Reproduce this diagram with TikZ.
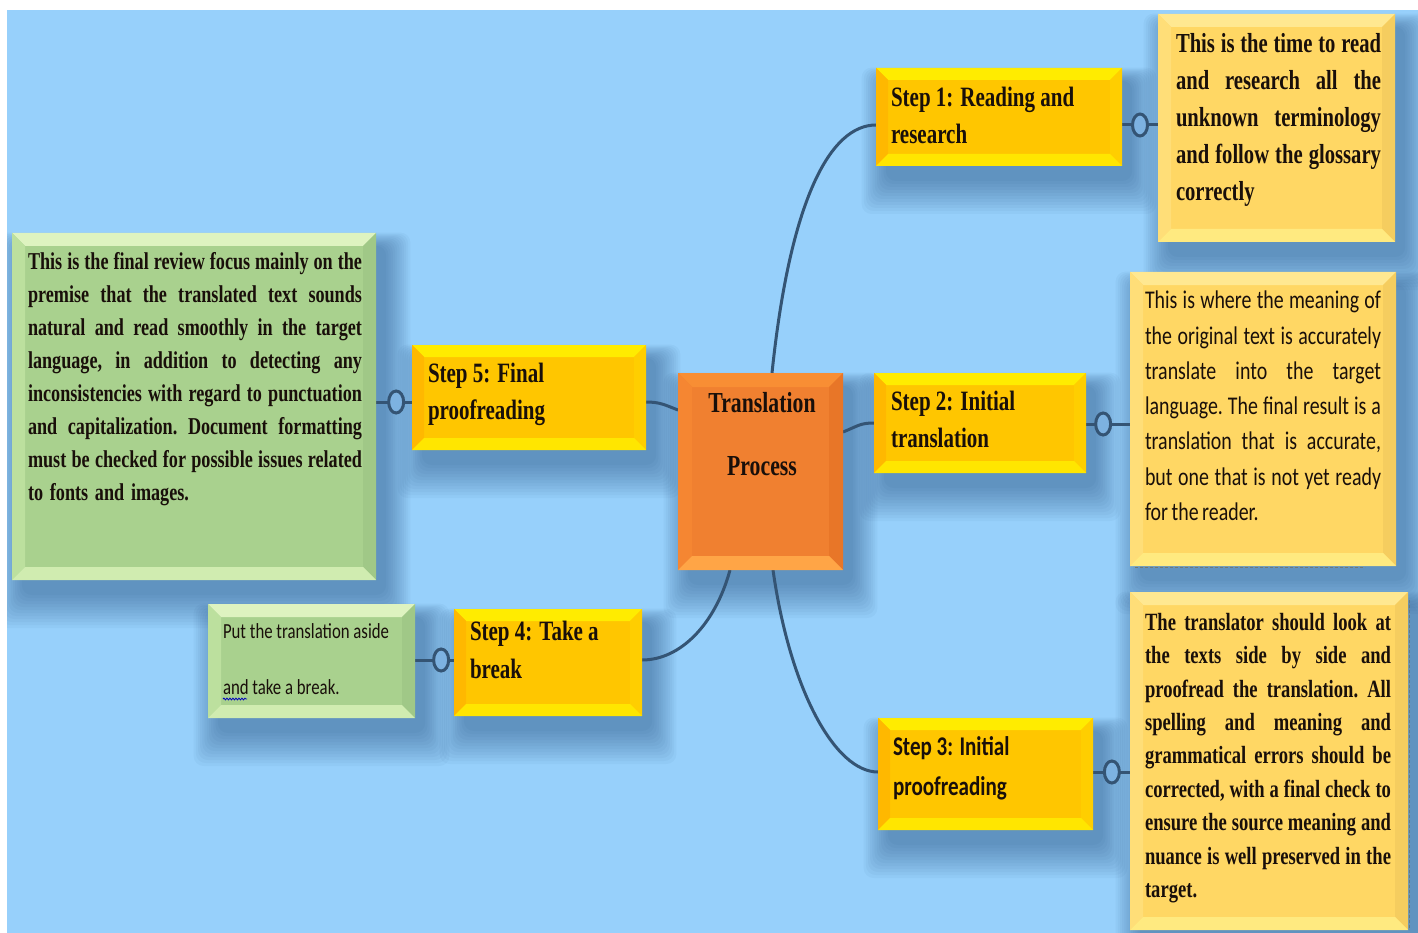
\documentclass[tikz,border=0pt]{standalone}
\usepackage{fontspec}
\newfontfamily\serifb[FakeStretch=0.75]{Liberation Serif}
\newfontfamily\sansc[FakeStretch=0.78]{Carlito}
\usetikzlibrary{shapes.geometric,decorations.pathmorphing}
\pgfdeclarelayer{bglayer}
\pgfdeclarelayer{shadowlayer}
\pgfdeclarelayer{connlayer}
\pgfsetlayers{bglayer,shadowlayer,connlayer,main}

\definecolor{bgblue}{RGB}{151,208,251}
\definecolor{shadowcol}{RGB}{30,70,120}
\definecolor{conncol}{RGB}{52,84,116}
\definecolor{ringfill}{RGB}{125,178,225}
\definecolor{stepbody}{RGB}{255,198,0}
\definecolor{steptop}{RGB}{255,236,0}
\definecolor{stepleft}{RGB}{255,184,0}
\definecolor{stepright}{RGB}{255,206,0}
\definecolor{stepbot}{RGB}{255,230,0}
\definecolor{descbody}{RGB}{255,215,100}
\definecolor{desctop}{RGB}{255,232,145}
\definecolor{descleft}{RGB}{255,222,120}
\definecolor{descright}{RGB}{245,205,95}
\definecolor{descbot}{RGB}{255,234,128}
\definecolor{grnbody}{RGB}{169,209,142}
\definecolor{grntop}{RGB}{222,243,192}
\definecolor{grnleft}{RGB}{188,224,158}
\definecolor{grnright}{RGB}{160,200,135}
\definecolor{grnbot}{RGB}{208,236,176}
\definecolor{orgbody}{RGB}{240,128,48}
\definecolor{orgtop}{RGB}{248,142,52}
\definecolor{orgleft}{RGB}{245,134,50}
\definecolor{orgright}{RGB}{232,118,40}
\definecolor{orgbot}{RGB}{255,165,70}
\definecolor{txtcol}{RGB}{25,15,10}
\definecolor{dashcol}{RGB}{110,120,120}

\newcommand\jl[1]{\hbox to \linewidth{\frenchspacing\spaceskip=0.12em plus 1fil\relax #1}\break}
\newcommand\lastl[2]{\hbox{\frenchspacing\spaceskip=#1\relax #2}}

\tikzset{
  bevbox/.style n args={6}{draw=none, inner sep=0pt, outer sep=0pt, fill=#1,
    path picture={
      \fill[#2] (path picture bounding box.north west) -- (path picture bounding box.north east)
        -- ([shift={(-#6,-#6)}]path picture bounding box.north east)
        -- ([shift={(#6,-#6)}]path picture bounding box.north west) -- cycle;
      \fill[#3] (path picture bounding box.north west) -- ([shift={(#6,-#6)}]path picture bounding box.north west)
        -- ([shift={(#6,#6)}]path picture bounding box.south west) -- (path picture bounding box.south west) -- cycle;
      \fill[#4] (path picture bounding box.north east) -- ([shift={(-#6,-#6)}]path picture bounding box.north east)
        -- ([shift={(-#6,#6)}]path picture bounding box.south east) -- (path picture bounding box.south east) -- cycle;
      \fill[#5] (path picture bounding box.south west) -- (path picture bounding box.south east)
        -- ([shift={(-#6,#6)}]path picture bounding box.south east)
        -- ([shift={(#6,#6)}]path picture bounding box.south west) -- cycle;
    }},
  stepbox/.style={bevbox={stepbody}{steptop}{stepleft}{stepright}{stepbot}{12pt}},
  descbox/.style={bevbox={descbody}{desctop}{descleft}{descright}{descbot}{13pt}},
  grnbox/.style={bevbox={grnbody}{grntop}{grnleft}{grnright}{grnbot}{13pt}},
  orgbox/.style={bevbox={orgbody}{orgtop}{orgleft}{orgright}{orgbot}{14pt}},
  txt/.style={inner sep=0pt, outer sep=0pt, text=txtcol, anchor=north west},
  steptxt/.style={txt, align=left, font=\serifb\bfseries\fontsize{28}{37}\selectfont},
  conn/.style={draw=conncol, line width=3pt},
  ring/.style={ellipse, draw=conncol, line width=3pt, fill=ringfill, minimum width=15pt, minimum height=22pt, inner sep=0pt},
}

\begin{document}
\begin{tikzpicture}[x=1pt, y=-1pt]
\useasboundingbox (0,0) rectangle (1418,933);

% boxes
\node[orgbox, minimum width=165pt, minimum height=197pt] (ctr) at (760.5,471.5) {};
\node[stepbox, minimum width=246pt, minimum height=98pt] (s1) at (999,117) {};
\node[descbox, minimum width=237pt, minimum height=228pt] (d1) at (1276.5,128) {};
\node[stepbox, minimum width=212pt, minimum height=100pt] (s2) at (980,423) {};
\node[descbox, minimum width=266pt, minimum height=294pt] (d2) at (1263,419) {};
\node[stepbox, minimum width=215pt, minimum height=112pt] (s3) at (985.5,774) {};
\node[descbox, minimum width=278pt, minimum height=338pt] (d3) at (1269,761) {};
\node[stepbox, minimum width=188pt, minimum height=107pt] (s4) at (548,662.5) {};
\node[grnbox, minimum width=207pt, minimum height=114pt] (d4) at (311.5,661) {};
\node[stepbox, minimum width=234pt, minimum height=105pt] (s5) at (529,397.5) {};
\node[grnbox, minimum width=364pt, minimum height=347pt] (d5) at (194,406.5) {};

% texts
\node[txt, anchor=north, align=center, font=\serifb\bfseries\fontsize{29}{63}\selectfont] (ctt) at (762,392) {Translation\\Process};
\node[steptxt] (s1t) at (891,87) {Step 1: Reading and\\research};
\node[steptxt] (s2t) at (891,391) {Step 2: Initial\\translation};
\node[txt, align=left, font=\sansc\bfseries\fontsize{27}{40}\selectfont] (s3t) at (893,737) {Step 3: Initial\\proofreading};
\node[steptxt, font=\serifb\bfseries\fontsize{28}{38}\selectfont] (s4t) at (470,621) {Step 4: Take a\\break};
\node[steptxt] (s5t) at (428,363) {Step 5: Final\\proofreading};

\node[txt, text width=205pt, align=left, font=\serifb\bfseries\fontsize{27.5}{37}\selectfont] (d1t) at (1176,33)
  {\jl{This is the time to read}\jl{and research all the}\jl{unknown terminology}\jl{and follow the glossary}correctly};
\node[txt, text width=236pt, align=left, font=\sansc\fontsize{25.5}{35.3}\selectfont] (d2t) at (1145,291)
  {\jl{This is where the meaning of}\jl{the original text is accurately}\jl{translate into the target}\jl{language. The final result is a}\jl{translation that is accurate,}\jl{but one that is not yet ready}\lastl{0.14em}{for the reader.}};
\node[txt, text width=246pt, align=left, font=\serifb\bfseries\fontsize{24.8}{33.4}\selectfont] (d3t) at (1145,613)
  {\jl{The translator should look at}\jl{the texts side by side and}\jl{proofread the translation. All}\jl{spelling and meaning and}\jl{grammatical errors should be}\jl{corrected, with a final check to}\jl{ensure the source meaning and}\jl{nuance is well preserved in the}target.};
\node[txt, align=left, font=\sansc\fontsize{21.5}{56}\selectfont] (d4t) at (223,624)
  {Put the translation aside\\and take a break.};
\node[txt, text width=334pt, align=left, font=\serifb\bfseries\fontsize{24.2}{33.1}\selectfont] (d5t) at (28,252)
  {\jl{This is the final review focus mainly on the}\jl{premise that the translated text sounds}\jl{natural and read smoothly in the target}\jl{language, in addition to detecting any}\jl{inconsistencies with regard to punctuation}\jl{and capitalization. Document formatting}\jl{must be checked for possible issues related}\lastl{0.28em}{to fonts and images.}};

% spell-check underline
\draw[blue!75!black, line width=0.8pt, decorate, decoration={snake, amplitude=0.9pt, segment length=3pt}] (223,699) -- (247,699);

% background and shadows
\begin{pgfonlayer}{bglayer}
  \fill[white] (0,0) rectangle (1418,933);
  \fill[bgblue] (7,10) rectangle (1418,933);
\end{pgfonlayer}
\begin{pgfonlayer}{shadowlayer}
  \begin{scope}
    \clip (7,10) rectangle (1418,933);
    \foreach \n in {ctr,s1,d1,s2,d2,s3,d3,s4,d4,s5,d5}{
      \foreach \k in {1,...,12}{
        \fill[shadowcol, opacity=0.045, rounded corners=10pt]
          ([shift={(12pt-\k*2.2pt,-14pt+\k*1.2pt)}]\n.north west) rectangle ([shift={(8pt+\k*2.2pt,-12pt-\k*3pt)}]\n.south east);
      }
    }
  \end{scope}
\end{pgfonlayer}

% connectors
\begin{pgfonlayer}{connlayer}
  \draw[conn] ([xshift=11.5pt]ctr.north) .. controls (790,200) and (830,125) .. ([yshift=-8pt]s1.west);
  \draw[conn] ([yshift=39.5pt]ctr.east) .. controls (858,426) and (860,423) .. (s2.west);
  \draw[conn] ([xshift=12.5pt]ctr.south) .. controls (790,690) and (835,772) .. ([yshift=2pt]s3.west);
  \draw[conn] ([xshift=-30.5pt]ctr.south) .. controls (715,625) and (680,660) .. ([yshift=2.5pt]s4.east);
  \draw[conn] ([yshift=61.5pt]ctr.west) .. controls (665,405) and (660,402) .. ([yshift=-4.5pt]s5.east);

  \draw[conn] ([yshift=-8pt]s1.east) -- node[ring, pos=0.5] (r1) {} ([yshift=3pt]d1.west);
  \draw[conn] ([yshift=-1pt]s2.east) -- node[ring, pos=0.39] (r2) {} ([yshift=-5pt]d2.west);
  \draw[conn] ([yshift=2pt]s3.east) -- node[ring, pos=0.51] (r3) {} ([yshift=-11pt]d3.west);
  \draw[conn] ([yshift=2.5pt]s4.west) -- node[ring, pos=0.33] (r4) {} ([yshift=1pt]d4.east);
  \draw[conn] ([yshift=-4.5pt]s5.west) -- node[ring, pos=0.44] (r5) {} ([yshift=4.5pt]d5.east);

  \draw[dashcol, line width=1pt, dash pattern=on 3pt off 2pt] ([xshift=5pt,yshift=-1.5pt]d2.south west) -- ([xshift=-31pt,yshift=-1.5pt]d2.south east);
  \draw[dashcol, line width=1pt, dash pattern=on 3pt off 2pt] ([xshift=1.5pt,yshift=-8pt]d3.north east) -- ([xshift=1.5pt]d3.south east);
\end{pgfonlayer}
\end{tikzpicture}
\end{document}
